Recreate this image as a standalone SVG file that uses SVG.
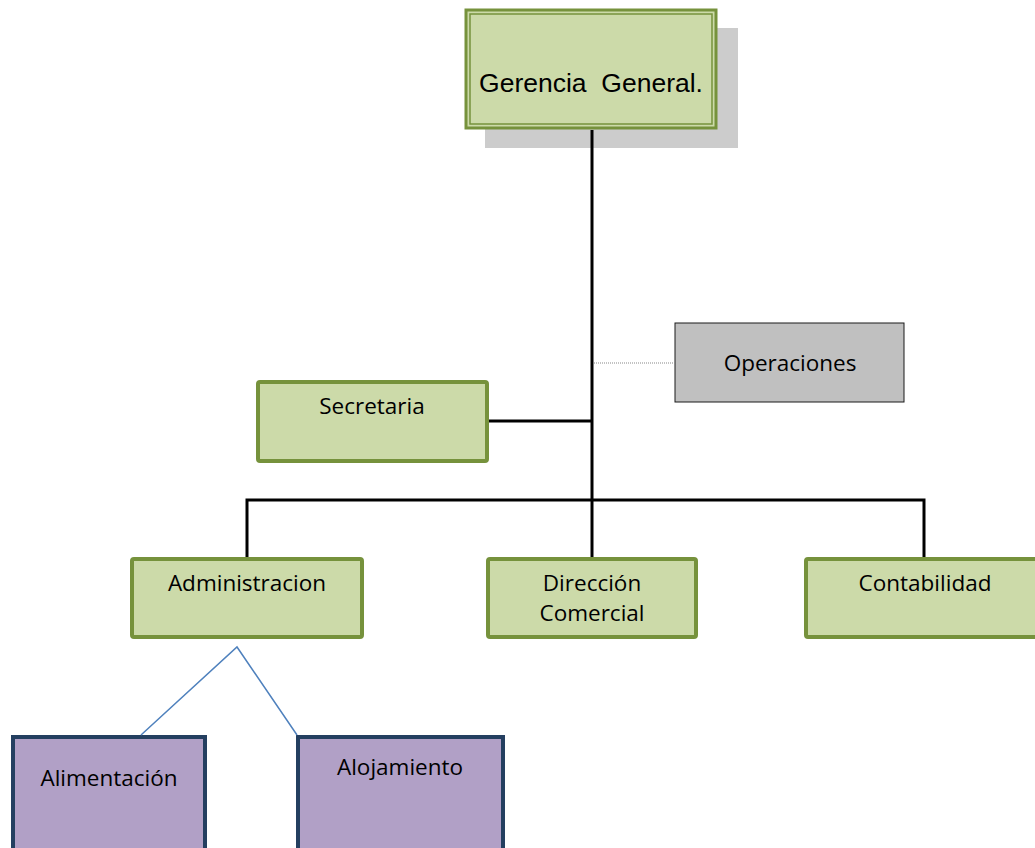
<svg xmlns="http://www.w3.org/2000/svg" width="1035" height="848" viewBox="0 0 1035 848">
  <style>
    .green { fill: #CCDAA9; stroke: #76923C; stroke-width: 4; }
    .purple { fill: #B1A0C6; stroke: #243F60; stroke-width: 4; }
    .grey { fill: #C0C0C0; stroke: #1a1a1a; stroke-width: 1; }
    .lbl { font-family: "Open Sans", "Liberation Sans", sans-serif; font-size: 22.5px; fill: #000; text-anchor: middle; }
    .tree { stroke: #000; stroke-width: 3; fill: none; }
    .sub { stroke: #4F81BD; stroke-width: 1.5; fill: none; }
  </style>

  <g id="gerencia">
    <rect x="485" y="28" width="253" height="120" fill="#CCCCCC"/>
    <rect x="466" y="10" width="250" height="118" fill="#CCDAA9" stroke="#76923C" stroke-width="3"/>
    <rect x="470" y="14" width="242" height="110" fill="none" stroke="#76923C" stroke-width="1.5"/>
    <text x="591" y="92" font-family="Liberation Sans, Arial, sans-serif" font-size="26.5" text-anchor="middle" xml:space="preserve" style="white-space:pre">Gerencia  General.</text>
  </g>

  <g id="operaciones">
    <rect class="grey" x="675" y="323" width="229" height="79"/>
    <text class="lbl" x="790" y="371">Operaciones</text>
  </g>

  <g id="secretaria">
    <rect class="green" x="258" y="382" width="229" height="79" rx="2"/>
    <text class="lbl" x="372" y="414">Secretaria</text>
  </g>

  <g id="administracion">
    <rect class="green" x="132" y="559" width="230" height="78" rx="2"/>
    <text class="lbl" x="247" y="591">Administracion</text>
  </g>

  <g id="direccion-comercial">
    <rect class="green" x="488" y="559" width="208" height="78" rx="2"/>
    <text class="lbl" x="592" y="591">Dirección</text>
    <text class="lbl" x="592" y="621">Comercial</text>
  </g>

  <g id="contabilidad">
    <rect class="green" x="806" y="559" width="240" height="78" rx="2"/>
    <text class="lbl" x="925" y="591">Contabilidad</text>
  </g>

  <g id="alimentacion">
    <rect class="purple" x="13" y="737" width="192" height="120"/>
    <text class="lbl" x="109" y="786">Alimentación</text>
  </g>

  <g id="alojamiento">
    <rect class="purple" x="298" y="737" width="205" height="120"/>
    <text class="lbl" x="400" y="775">Alojamiento</text>
  </g>

  <g id="connectors">
    <line class="tree" x1="592" y1="130" x2="592" y2="500"/>
    <line class="tree" x1="489" y1="421" x2="592" y2="421"/>
    <polyline class="tree" points="247,557 247,500 924,500 924,557"/>
    <line class="tree" x1="592" y1="500" x2="592" y2="557"/>
    <line x1="594" y1="363" x2="675" y2="363" stroke="#888" stroke-width="1.2" stroke-dasharray="1 1"/>
    <polyline class="sub" points="141,735 237,647 297,735"/>
  </g>
</svg>
